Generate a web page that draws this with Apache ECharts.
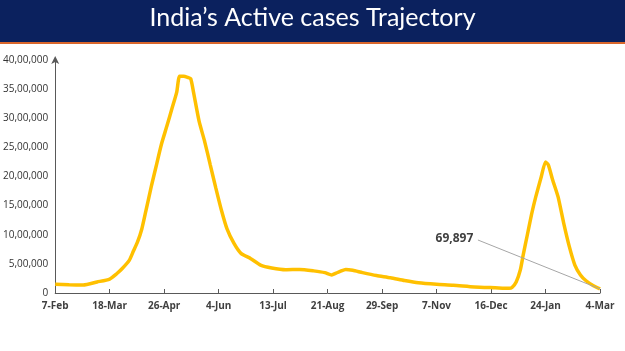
<!DOCTYPE html>
<html>
<head>
<meta charset="utf-8">
<script src="https://cdn.jsdelivr.net/npm/echarts@6/dist/echarts.min.js"></script>
<style>
  html, body { margin: 0; padding: 0; background: #fff; }
  #chart { width: 625px; height: 351px; }
</style>
</head>
<body>
<div id="chart"></div>
<script>
// days counted from 7-Feb-2021
var days = [0, 10, 20, 30, 39, 44, 48, 53, 56, 59, 62, 65, 69, 72, 76, 80, 84, 87, 89, 92, 95, 97, 99,
  103, 107, 111, 115, 119, 123, 128, 133, 140, 147, 155, 165, 175, 185, 193, 198, 201, 204,
  208, 213, 220, 230, 240, 250, 260, 273, 285, 300, 315, 325, 327, 330, 333, 335, 338, 341, 344,
  348, 351, 353, 356, 360, 364, 368, 372, 376, 380, 385, 390];
var activeCases = [149000, 140000, 138000, 190000, 240000, 330000, 420000, 560000, 720000, 880000, 1100000, 1420000,
  1850000, 2150000, 2550000, 2870000, 3200000, 3450000, 3720000, 3720000, 3700000, 3680000, 3450000,
  2950000, 2600000, 2200000, 1800000, 1420000, 1100000, 850000, 680000, 590000, 480000, 430000, 400000,
  405000, 380000, 350000, 310000, 340000, 370000, 405000, 390000, 350000, 300000, 263000, 215000, 175000,
  150000, 135000, 105000, 90000, 80000, 95000, 190000, 400000, 650000, 1000000, 1350000, 1650000,
  2000000, 2250000, 2200000, 1950000, 1650000, 1200000, 800000, 480000, 310000, 210000, 130000, 69897];
var xTickLabels = ['7-Feb', '18-Mar', '26-Apr', '4-Jun', '13-Jul', '21-Aug', '29-Sep', '7-Nov', '16-Dec', '24-Jan', '4-Mar'];
var yTickLabels = ['0', '5,00,000', '10,00,000', '15,00,000', '20,00,000', '25,00,000', '30,00,000', '35,00,000', '40,00,000'];
var calloutText = '69,897';
var calloutFrom = [302.6, 910000];

var seriesData = days.map(function (d, i) { return [d, activeCases[i]]; });
var last = seriesData[seriesData.length - 1];

var myChart = echarts.init(document.getElementById('chart'));
var option = {
    animation: false,
    graphic: [
        { type: 'rect', left: 0, top: 0, shape: { width: 625, height: 42 }, style: { fill: '#0B215E' } },
        { type: 'rect', left: 0, top: 42, shape: { width: 625, height: 2 }, style: { fill: '#D9662B' } },
        {
            type: 'text', left: 'center', top: 5,
            style: { text: 'India’s Active cases Trajectory', fill: '#fff', font: '25px Lato' }
        }
    ],
    grid: { left: 55, right: 25, top: 60, bottom: 58 },
    xAxis: {
        type: 'value',
        min: 0,
        max: 390,
        interval: 39,
        splitLine: { show: false },
        axisLine: { lineStyle: { color: '#595959', width: 1 } },
        axisTick: { inside: true, length: 4, lineStyle: { color: '#595959' } },
        axisLabel: {
            margin: 8,
            fontSize: 10,
            fontWeight: 'bold',
            color: '#404040',
            fontFamily: 'Open Sans',
            formatter: function (v) { return xTickLabels[Math.round(v / 39)] || ''; }
        }
    },
    yAxis: {
        type: 'value',
        min: 0,
        max: 4000000,
        interval: 500000,
        splitLine: { show: false },
        axisLine: { show: true, symbol: ['none', 'arrow'], symbolSize: [6, 8], symbolOffset: [0, 4], lineStyle: { color: '#595959', width: 1 } },
        axisTick: { show: false },
        axisLabel: {
            margin: 7,
            fontSize: 10,
            color: '#333',
            fontFamily: 'Open Sans',
            formatter: function (v) { return yTickLabels[Math.round(v / 500000)]; }
        }
    },
    series: [{
        type: 'line',
        data: seriesData,
        showSymbol: false,
        smooth: 0.2,
        lineStyle: { color: '#FFC000', width: 3.5 },
        itemStyle: { color: '#FFC000' },
        markLine: {
            silent: true,
            symbol: 'none',
            lineStyle: { color: '#A6A6A6', width: 1, type: 'solid' },
            label: {
                show: true,
                position: 'start',
                formatter: calloutText,
                fontSize: 12,
                fontWeight: 'bold',
                color: '#404040',
                fontFamily: 'Open Sans'
            },
            data: [[{ coord: calloutFrom }, { coord: last }]]
        }
    }]
};
myChart.setOption(option);
</script>
</body>
</html>
